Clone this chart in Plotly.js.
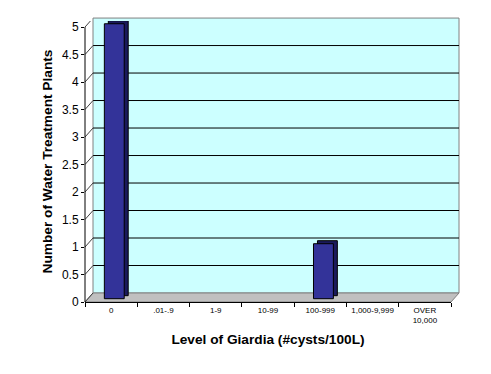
<!DOCTYPE html>
<html>
<head>
<meta charset="utf-8">
<script src="https://cdn.plot.ly/plotly-3.0.1.min.js"></script>
<style>html,body{margin:0;padding:0;background:#fff;}#chart{width:491px;height:374px;}</style>
</head>
<body>
<div id="chart"></div>
<script>
// Data
var categories = ["0", ".01-.9", "1-9", "10-99", "100-999", "1,000-9,999", "OVER<br>10,000"];
var plants = [5, 0, 0, 0, 1, 0, 0];
var yTicks = [0, 0.5, 1, 1.5, 2, 2.5, 3, 3.5, 4, 4.5, 5];
var yTickText = ["0", "0.5", "1", "1.5", "2", "2.5", "3", "3.5", "4", "4.5", "5"];

var W = 491, H = 374;
var yMax = 5;         // top of value axis
var yRangeTop = 5.11; // a little headroom so 3D bar tops are not clipped
var margin = {l: 85, r: 40, t: 21, b: 72};
var pw = W - margin.l - margin.r, ph = H - margin.t - margin.b;
var depthX = 8, depthY = 9;
var dx = depthX / pw, dy = depthY / ph;
var topP = yMax / yRangeTop;

var shapes = [];
// back wall
shapes.push({type: 'rect', xref: 'paper', yref: 'paper', x0: dx, x1: 1 + dx, y0: dy, y1: topP + dy,
  fillcolor: '#ccffff', line: {color: '#808080', width: 1}, layer: 'below'});
// floor
shapes.push({type: 'path', xref: 'paper', yref: 'paper',
  path: 'M0,0 L' + dx + ',' + dy + ' L' + (1 + dx) + ',' + dy + ' L1,0 Z',
  fillcolor: '#c0c0c0', line: {color: '#808080', width: 1}, layer: 'below'});
// gridlines on back wall + side wall diagonals
yTicks.forEach(function (v) {
  if (v > 0 && v < yMax) {
    shapes.push({type: 'line', xref: 'paper', x0: dx, x1: 1 + dx,
      yref: 'y', ysizemode: 'pixel', yanchor: v, y0: depthY, y1: depthY,
      line: {color: '#000000', width: 1}, layer: 'below'});
  }
  shapes.push({type: 'line', xref: 'paper', xsizemode: 'pixel', xanchor: 0, x0: 0, x1: depthX,
    yref: 'y', ysizemode: 'pixel', yanchor: v, y0: 0, y1: depthY,
    line: {color: '#404040', width: 1}, layer: 'below'});
});
// value axis line (0..5)
shapes.push({type: 'line', xref: 'paper', x0: 0, x1: 0, yref: 'y', y0: 0, y1: yMax,
  line: {color: '#000000', width: 1}, layer: 'above'});

var barW = 0.38;
var shiftX = 0.06, shiftY = 0.06;
var sideX = 0.076, sideY = 0.055;
var lineWidths = plants.map(function (v) { return v > 0 ? 1 : 0; });
var sideTrace = {
  type: 'bar', x: categories, y: plants, base: shiftY + sideY, width: barW,
  offset: -barW / 2 + shiftX + sideX,
  marker: {color: '#1a1a5c', line: {color: '#000000', width: lineWidths}},
  hoverinfo: 'skip', showlegend: false
};
var frontTrace = {
  type: 'bar', x: categories, y: plants, base: shiftY, width: barW,
  offset: -barW / 2 + shiftX,
  marker: {color: '#333399', line: {color: '#000000', width: lineWidths}},
  showlegend: false
};

var layout = {
  width: W, height: H, margin: margin,
  paper_bgcolor: '#ffffff', plot_bgcolor: 'rgba(0,0,0,0)',
  barmode: 'overlay',
  font: {family: 'Arial, "Liberation Sans", sans-serif', color: '#000000'},
  xaxis: {
    type: 'category', range: [-0.5, 6.5], categoryorder: 'array', categoryarray: categories,
    showline: true, linecolor: '#000000', linewidth: 1,
    ticks: 'outside', tickson: 'boundaries', ticklen: 4, tickcolor: '#000000',
    showgrid: false, zeroline: false,
    tickfont: {size: 8},
    title: {text: '<b>Level of Giardia (#cysts/100L)</b>', font: {size: 13.7}, standoff: 10}
  },
  yaxis: {
    range: [0, yRangeTop], tickvals: yTicks, ticktext: yTickText,
    showline: false,
    ticks: 'outside', ticklen: 3, tickcolor: '#000000',
    showgrid: false, zeroline: false,
    tickfont: {size: 12},
    title: {text: '<b>Number of Water Treatment Plants</b>', font: {size: 13.7}, standoff: 6}
  },
  shapes: shapes
};

Plotly.newPlot('chart', [sideTrace, frontTrace], layout, {displayModeBar: false, staticPlot: true});
</script>
</body>
</html>
